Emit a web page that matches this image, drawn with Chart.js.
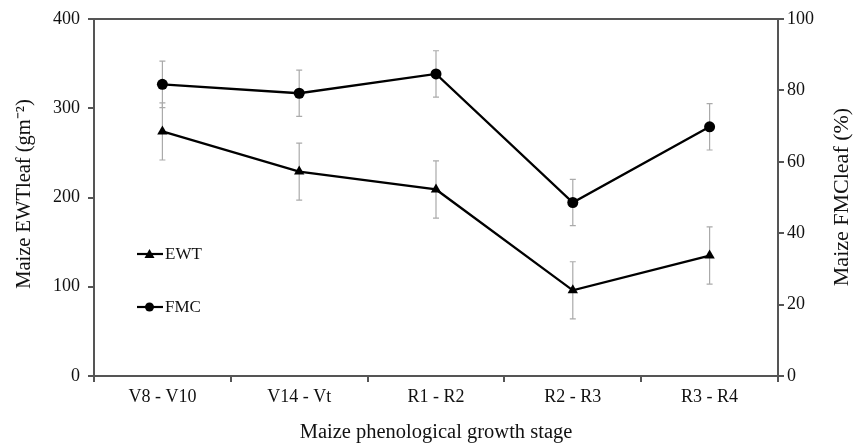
<!DOCTYPE html>
<html>
<head>
<meta charset="utf-8">
<script src="https://cdn.jsdelivr.net/npm/chart.js@4"></script>
<style>
  html, body { margin: 0; padding: 0; background: #fff; }
  #wrap { width: 853px; height: 448px; }
</style>
</head>
<body>
<div id="wrap"><canvas id="myChart" width="853" height="448"></canvas></div>
<script>
// data
var stages = ["V8 - V10", "V14 - Vt", "R1 - R2", "R2 - R3", "R3 - R4"];
var ewt = [274, 229, 209, 96, 135];        // gm-2, left axis
var ewtErr = [32, 32, 32, 32, 32];
var fmc = [81.7, 79.2, 84.6, 48.6, 69.8];  // %, right axis
var fmcErr = [6.5, 6.5, 6.5, 6.5, 6.5];

var serif = "'Liberation Serif', 'Times New Roman', serif";
var axisColor = "#555";

// grey error bars, drawn under the lines
var errorBars = {
    id: "errorBars",
    beforeDatasetsDraw(chart) {
        var ctx = chart.ctx;
        var x = chart.scales.x;
        var sets = [[ewt, ewtErr, chart.scales.y], [fmc, fmcErr, chart.scales.y1]];
        ctx.save();
        ctx.strokeStyle = "#aaa";
        ctx.lineWidth = 1.2;
        sets.forEach(function (s) {
            s[0].forEach(function (v, i) {
                var px = x.getPixelForValue(i);
                var top = s[2].getPixelForValue(v + s[1][i]);
                var bot = s[2].getPixelForValue(v - s[1][i]);
                ctx.beginPath();
                ctx.moveTo(px, top); ctx.lineTo(px, bot);
                ctx.moveTo(px - 3, top); ctx.lineTo(px + 3, top);
                ctx.moveTo(px - 3, bot); ctx.lineTo(px + 3, bot);
                ctx.stroke();
            });
        });
        ctx.restore();
    }
};

// top frame line, y titles, legend inside the plot
var extras = {
    id: "extras",
    afterDraw(chart) {
        var ctx = chart.ctx;
        var a = chart.chartArea;
        ctx.save();
        ctx.strokeStyle = axisColor;
        ctx.lineWidth = 2;
        ctx.beginPath();
        ctx.moveTo(a.left, a.top);
        ctx.lineTo(a.right, a.top);
        ctx.stroke();

        ctx.fillStyle = "#111";
        ctx.textAlign = "center";
        ctx.textBaseline = "middle";
        ctx.save();
        ctx.font = "20.5px " + serif;
        ctx.translate(25, 194);
        ctx.rotate(-Math.PI / 2);
        ctx.fillText("Maize EWTleaf (gm\u207B\u00B2)", 0, 0);
        ctx.restore();
        ctx.save();
        ctx.font = "22px " + serif;
        ctx.translate(842, 197);
        ctx.rotate(-Math.PI / 2);
        ctx.fillText("Maize FMCleaf (%)", 0, 0);
        ctx.restore();

        var items = [["EWT", "triangle", 254], ["FMC", "circle", 307]];
        items.forEach(function (it) {
            ctx.strokeStyle = "#000";
            ctx.lineWidth = 2.2;
            ctx.beginPath();
            ctx.moveTo(137, it[2]);
            ctx.lineTo(163, it[2]);
            ctx.stroke();
            ctx.fillStyle = "#000";
            ctx.beginPath();
            if (it[1] === "triangle") {
                ctx.moveTo(149.5, it[2] - 5);
                ctx.lineTo(154.5, it[2] + 4);
                ctx.lineTo(144.5, it[2] + 4);
                ctx.closePath();
            } else {
                ctx.arc(149.5, it[2], 4.5, 0, Math.PI * 2);
            }
            ctx.fill();
            ctx.fillStyle = "#111";
            ctx.font = "17px " + serif;
            ctx.textAlign = "left";
            ctx.fillText(it[0], 165, it[2] + 1);
        });
        ctx.restore();
    }
};

new Chart("myChart", {
    type: "line",
    data: {
        labels: stages,
        datasets: [
            {
                label: "EWT",
                data: ewt,
                yAxisID: "y",
                borderColor: "#000",
                backgroundColor: "#000",
                borderWidth: 2.3,
                pointStyle: "triangle",
                pointRadius: 6,
                pointBorderWidth: 0,
                tension: 0
            },
            {
                label: "FMC",
                data: fmc,
                yAxisID: "y1",
                borderColor: "#000",
                backgroundColor: "#000",
                borderWidth: 2.3,
                pointStyle: "circle",
                pointRadius: 5.5,
                pointBorderWidth: 0,
                tension: 0
            }
        ]
    },
    options: {
        responsive: false,
        animation: false,
        layout: { padding: { top: 19, left: 0, right: 0, bottom: 0 } },
        plugins: {
            legend: { display: false },
            tooltip: { enabled: false }
        },
        scales: {
            x: {
                offset: true,
                grid: { offset: true, drawOnChartArea: false, drawTicks: true, tickLength: 6, color: axisColor, lineWidth: 2 },
                border: { color: axisColor, width: 2 },
                ticks: { color: "#111", font: { family: serif, size: 18 }, padding: 4, maxRotation: 0 },
                title: { display: true, text: "Maize phenological growth stage", color: "#111", font: { family: serif, size: 20.5 }, padding: { top: 10, bottom: 3 } },
                afterFit: function (s) { s.height = 72; }
            },
            y: {
                position: "left",
                min: 0, max: 400,
                grid: { drawOnChartArea: false, drawTicks: true, tickLength: 6, color: axisColor, lineWidth: 2 },
                border: { color: axisColor, width: 2 },
                ticks: { stepSize: 100, color: "#111", font: { family: serif, size: 18 }, padding: 8 },
                afterFit: function (s) { s.width = 94; }
            },
            y1: {
                position: "right",
                min: 0, max: 100,
                grid: { drawOnChartArea: false, drawTicks: true, tickLength: 6, color: axisColor, lineWidth: 2 },
                border: { color: axisColor, width: 2 },
                ticks: { stepSize: 20, color: "#111", font: { family: serif, size: 18 }, padding: 3 },
                afterFit: function (s) { s.width = 75; }
            }
        }
    },
    plugins: [errorBars, extras]
});
</script>
</body>
</html>
